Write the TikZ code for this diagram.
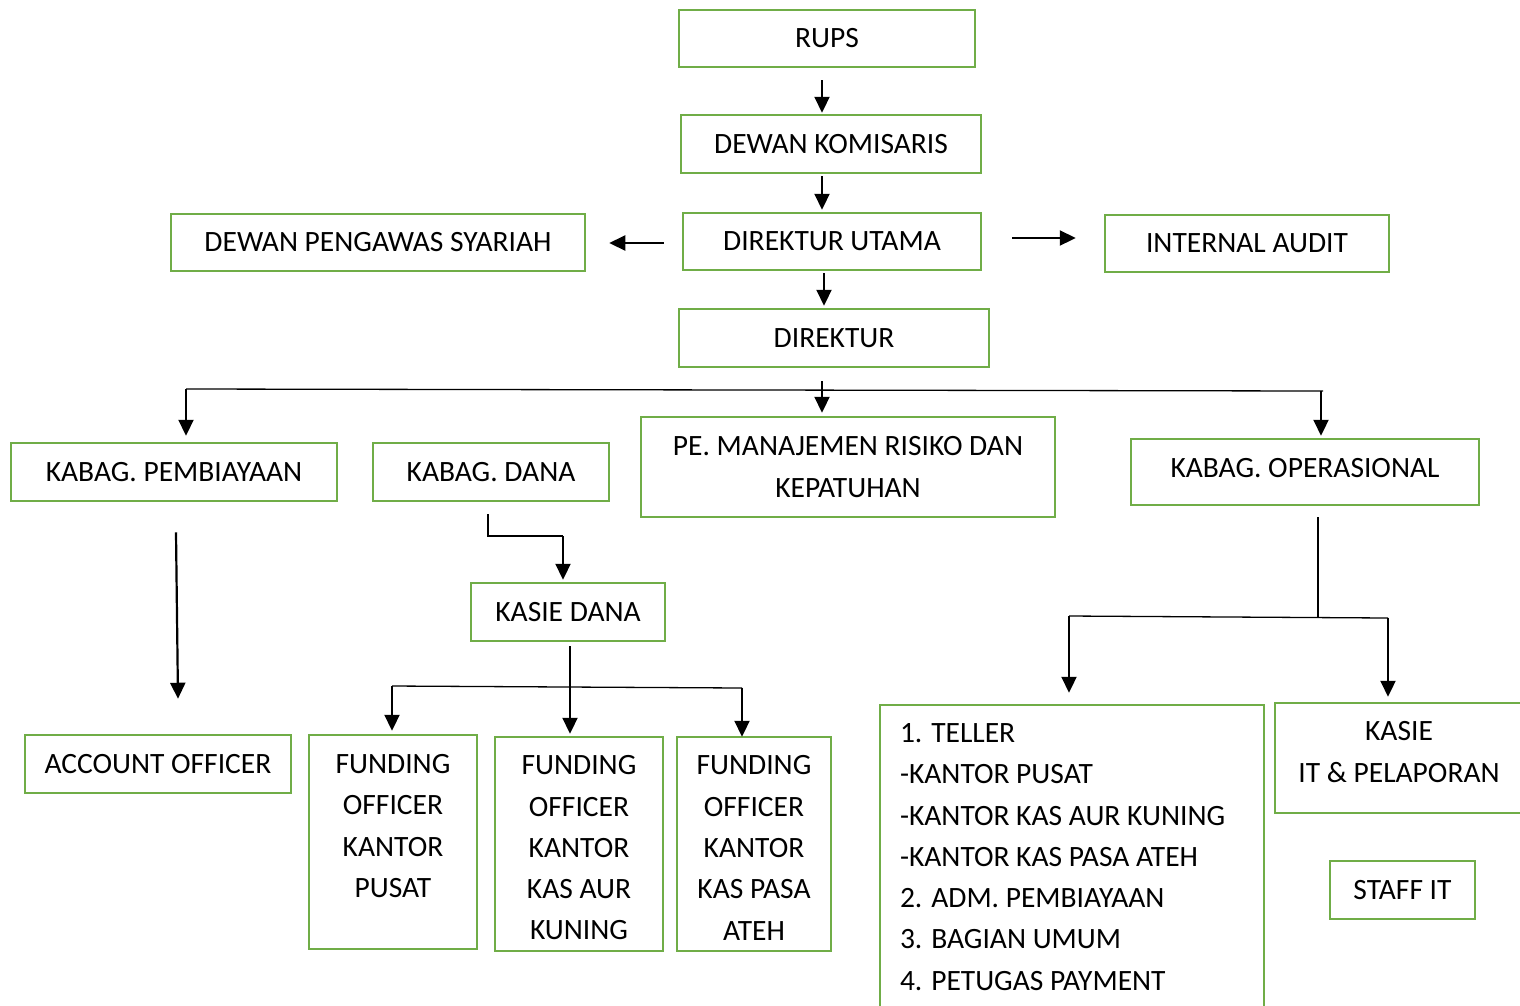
\documentclass[tikz,border=0pt]{standalone}
\usepackage{fontspec}
\setmainfont{Carlito}
\usetikzlibrary{arrows.meta,calc}
\definecolor{grn}{HTML}{70AD47}
\begin{document}
\begin{tikzpicture}[x=1pt,y=-1pt,
  box/.style={draw=grn,line width=2.5pt,inner sep=0pt,align=center,
    font=\fontsize{29.5}{41.3}\selectfont},
  arr/.style={line width=2.2pt,-{Triangle[length=16pt,width=15pt]}},
  thinline/.style={line width=1.3pt}]
\useasboundingbox (0,0) rectangle (1520,1005);
\fill[white] (0,0) rectangle (1520,1005);

% boxes
\node[box,minimum width=296pt,minimum height=57pt] (rups) at (827,38.5) {RUPS};
\node[box,minimum width=300pt,minimum height=58pt] (dk) at (831,144) {DEWAN KOMISARIS};
\node[box,minimum width=298pt,minimum height=57pt] (du) at (832,241.5) {DIREKTUR UTAMA};
\node[box,minimum width=414pt,minimum height=57pt] (dps) at (378,242.5) {DEWAN PENGAWAS SYARIAH};
\node[box,minimum width=284pt,minimum height=57pt] (ia) at (1247,243.5) {INTERNAL AUDIT};
\node[box,minimum width=310pt,minimum height=58pt] (dir) at (834,338) {DIREKTUR};
\node[box,minimum width=326pt,minimum height=58pt] (kp) at (174,472) {KABAG. PEMBIAYAAN};
\node[box,minimum width=236pt,minimum height=58pt] (kd) at (491,472) {KABAG. DANA};
\node[box,minimum width=414pt,minimum height=100pt] (pe) at (848,467) {PE. MANAJEMEN RISIKO DAN\\KEPATUHAN};
\node[box,minimum width=348pt,minimum height=66pt,text depth=8pt] (ko) at (1305,472) {KABAG. OPERASIONAL};
\node[box,minimum width=194pt,minimum height=58pt] (ksd) at (568,612) {KASIE DANA};
\node[box,minimum width=266pt,minimum height=58pt] (ao) at (158,764) {ACCOUNT OFFICER};
\node[box,minimum width=168pt,minimum height=214pt,text depth=32pt] (f1) at (393,842) {FUNDING\\OFFICER\\KANTOR\\PUSAT};
\node[box,minimum width=168pt,minimum height=214pt,text height=192pt] (f2) at (579,844) {FUNDING\\OFFICER\\KANTOR\\KAS AUR\\KUNING};
\node[box,minimum width=154pt,minimum height=214pt,text height=192pt] (f3) at (754,844) {FUNDING\\OFFICER\\KANTOR\\KAS PASA\\ATEH};
\node[box,align=flush left,text width=344pt,minimum width=384pt,minimum height=304pt] (tel) at (1072,857)
  {1. TELLER\\-KANTOR PUSAT\\-KANTOR KAS AUR KUNING\\-KANTOR KAS PASA ATEH\\2. ADM. PEMBIAYAAN\\3. BAGIAN UMUM\\4. PETUGAS PAYMENT};
\node[box,minimum width=248pt,minimum height=110pt,text depth=12pt] (kit) at (1399,758) {KASIE\\IT \& PELAPORAN};
\node[box,minimum width=145pt,minimum height=58pt] (staff) at (1402.5,890) {STAFF IT};

% top chain
\draw[arr] ([xshift=-5pt,yshift=-12pt]rups.south) -- ([xshift=-9pt,yshift=1pt]dk.north);
\draw[arr] ([xshift=-9pt,yshift=-2pt]dk.south) -- ([xshift=-10pt,yshift=2pt]du.north);
\draw[arr] ([xshift=-8pt,yshift=-2pt]du.south) -- ([xshift=-10pt,yshift=2pt]dir.north);
\draw[arr] ([xshift=-18pt,yshift=-1.5pt]du.west) -- ([xshift=23pt,yshift=-0.5pt]dps.east);
\draw[arr] ([xshift=30pt,yshift=3.5pt]du.east) -- ([xshift=-28pt,yshift=5.5pt]ia.west);

% direktur branch
\coordinate (hl) at (186,389);
\coordinate (hr) at (1323,391);
\draw[arr] ([xshift=-12pt,yshift=-13pt]dir.south) -- ([xshift=-26pt,yshift=3pt]pe.north);
\draw[thinline] (hl) -- (hr);
\draw[arr] (hl) -- ([xshift=12pt,yshift=6pt]kp.north);
\draw[arr] (1321,391) -- ([xshift=16pt,yshift=2pt]ko.north);

% pembiayaan
\draw[arr] ([xshift=2pt,yshift=-30pt]kp.south) -- ([xshift=20pt,yshift=35pt]ao.north);

% dana
\coordinate (kd1) at (488,514);
\coordinate (kd2) at (488,536);
\coordinate (kd3) at (563,536);
\draw[thinline] (kd1) -- (kd2) -- (kd3);
\draw[arr] (kd3) -- ([xshift=-5pt,yshift=2pt]ksd.north);

\coordinate (dl) at (392,686);
\coordinate (dr) at (742,688);
\draw[arr] ([xshift=2pt,yshift=-4pt]ksd.south) -- ([xshift=-9pt,yshift=2pt]f2.north);
\draw[thinline] (dl) -- (dr);
\draw[arr] (dl) -- ([xshift=-1pt,yshift=3pt]f1.north);
\draw[arr] (dr) -- ([xshift=-12pt,yshift=-1pt]f3.north);

% operasional
\coordinate (ol) at (1069,616);
\coordinate (orr) at (1388,618);
\coordinate (om) at (1318,617);
\draw[thinline] ([xshift=13pt,yshift=-11pt]ko.south) -- (om);
\draw[thinline] (ol) -- (orr);
\draw[arr] (ol) -- ([xshift=-3pt,yshift=11pt]tel.north);
\draw[arr] (orr) -- ([xshift=-11pt,yshift=5pt]kit.north);
\end{tikzpicture}
\end{document}
